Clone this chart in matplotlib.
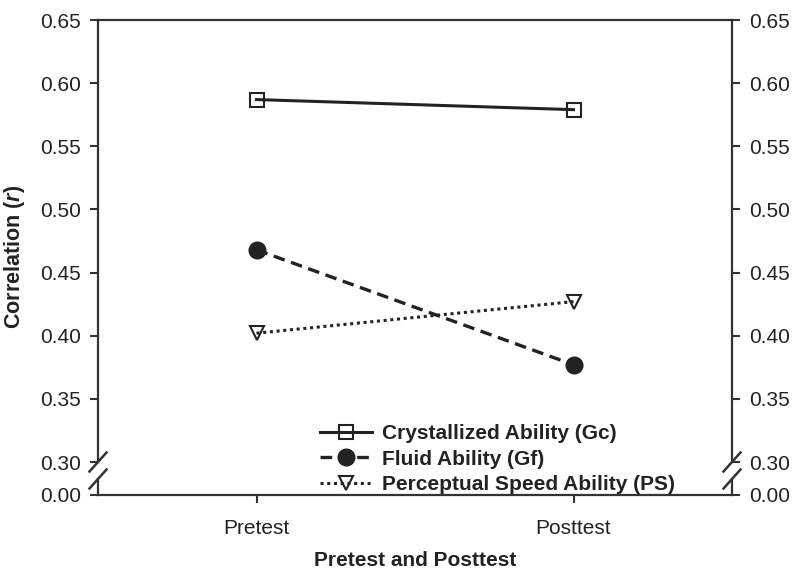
import matplotlib
matplotlib.use("Agg")
import matplotlib.pyplot as plt
from matplotlib.lines import Line2D

plt.rcParams['font.family'] = ['Liberation Sans', 'DejaVu Sans']
plt.rcParams['mathtext.fontset'] = 'custom'
plt.rcParams['mathtext.it'] = 'Liberation Sans:bold:italic'
plt.rcParams['mathtext.rm'] = 'Liberation Sans:bold'

# data
phases = ['Pretest', 'Posttest']
gc = [0.587, 0.579]
gf = [0.468, 0.377]
ps = [0.402, 0.427]
series_names = ['Crystallized Ability (Gc)', 'Fluid Ability (Gf)',
                'Perceptual Speed Ability (PS)']
yticks_top = [0.30, 0.35, 0.40, 0.45, 0.50, 0.55, 0.60, 0.65]

ink = '#222222'
W, H = 800, 580
fig = plt.figure(figsize=(8, 5.8), dpi=100)

L, R = 98 / W, 732 / W
top_y0, top_y1 = 1 - 462 / H, 1 - 20 / H
bot_y0, bot_y1 = 1 - 495 / H, 1 - 479 / H
ax = fig.add_axes([L, top_y0, R - L, top_y1 - top_y0])
axb = fig.add_axes([L, bot_y0, R - L, bot_y1 - bot_y0], sharex=ax)

x = range(len(phases))
ax.plot(x, gc, color=ink, lw=2.2, ls='-', marker='s', ms=10,
        mfc='none', mec=ink, mew=1.5, label=series_names[0])
ax.plot(x, gf, color=ink, lw=2.4, ls=(0, (3.5, 2)), marker='o', ms=12,
        mfc=ink, mec=ink, label=series_names[1])
ax.plot(x, ps, color=ink, lw=2.2, ls=(0, (1, 1.2)), marker='v', ms=10,
        mfc='none', mec=ink, mew=1.5, label=series_names[2])

ax.set_xlim(-0.5, 1.5)
ax.set_ylim(0.30, 0.65)
ax.set_yticks(yticks_top)
ax.set_yticklabels(['%.2f' % v for v in yticks_top])
axb.set_ylim(0, 0.0127)
axb.set_yticks([0])
axb.set_yticklabels(['0.00'])
axb.set_xticks(list(x))
axb.set_xticklabels(phases)

for a in (ax, axb):
    for s in a.spines.values():
        s.set_color('#333333')
        s.set_linewidth(1.6)
    a.tick_params(axis='y', direction='out', length=6, width=1.5,
                  color='#333333', labelsize=15, labelcolor=ink,
                  left=True, right=True, labelleft=True, labelright=True, pad=6)
ax.spines['bottom'].set_visible(False)
axb.spines['top'].set_visible(False)
ax.tick_params(axis='x', bottom=False, labelbottom=False)
axb.tick_params(axis='x', direction='out', length=6, width=1.5,
                color='#333333', labelsize=15, labelcolor=ink, pad=11)

ax.set_ylabel('Correlation ($\\it{r}$)', fontsize=15.5, fontweight='bold',
              color=ink)
# centred on the whole (broken) axis, 0.00 to 0.65
ax.yaxis.set_label_coords(-0.112, (462 - 257) / 442)
axb.set_xlabel('Pretest and Posttest', fontsize=15, fontweight='bold',
               color=ink, labelpad=10)

# axis break marks
dx, dy = 8.5 / W, 9.5 / H
for xc in (L, R):
    for yc in (top_y0, bot_y1):
        fig.add_artist(Line2D([xc - dx, xc + dx], [yc - dy, yc + dy],
                              color='#333333', lw=1.8))

leg = fig.legend(loc='upper left', bbox_to_anchor=(320 / W, 1 - 424 / H),
                 frameon=False, borderpad=0, borderaxespad=0,
                 handlelength=2.5, handletextpad=0.5, labelspacing=0.32,
                 prop={'weight': 'bold', 'size': 15})
for t in leg.get_texts():
    t.set_color(ink)

fig.savefig('out.png', dpi=100)
